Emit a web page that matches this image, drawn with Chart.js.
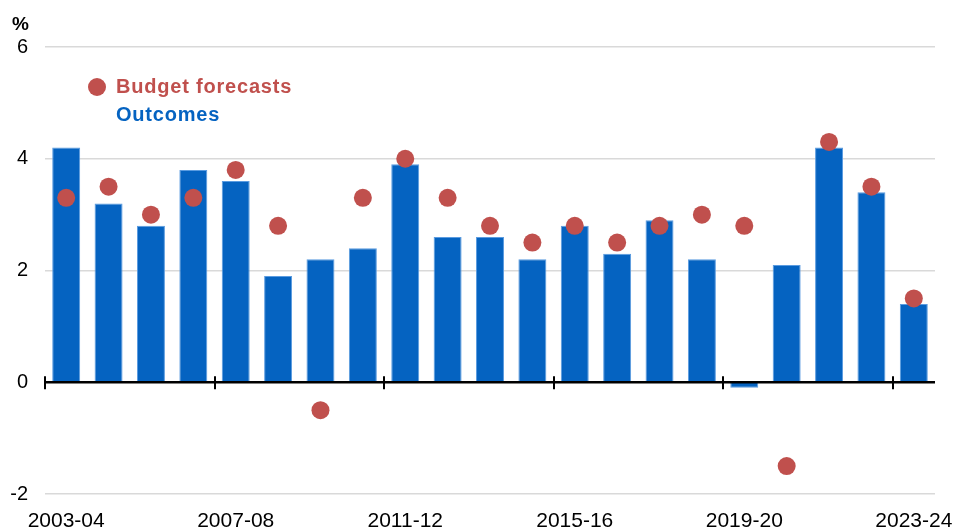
<!DOCTYPE html>
<html>
<head>
<meta charset="utf-8">
<script src="https://cdn.jsdelivr.net/npm/chart.js@4/dist/chart.umd.min.js"></script>
<style>
  html, body { margin: 0; padding: 0; background: #fff; }
  #wrap { width: 956px; height: 532px; }
</style>
</head>
<body>
<div id="wrap"><canvas id="growthChart" width="956" height="532"></canvas></div>
<script>
const years = ['2003-04', '2004-05', '2005-06', '2006-07', '2007-08', '2008-09', '2009-10',
    '2010-11', '2011-12', '2012-13', '2013-14', '2014-15', '2015-16', '2016-17', '2017-18',
    '2018-19', '2019-20', '2020-21', '2021-22', '2022-23', '2023-24'];
const outcomes = [4.2, 3.2, 2.8, 3.8, 3.6, 1.9, 2.2, 2.4, 3.9, 2.6, 2.6, 2.2, 2.8, 2.3, 2.9, 2.2, -0.1, 2.1, 4.2, 3.4, 1.4];
const forecasts = [3.3, 3.5, 3.0, 3.3, 3.8, 2.8, -0.5, 3.3, 4.0, 3.3, 2.8, 2.5, 2.8, 2.5, 2.8, 3.0, 2.8, -1.5, 4.3, 3.5, 1.5];
const yTicks = [-2, 0, 2, 4, 6];

const blue = '#0563C1';
const red = '#C0504D';
const font = "'Liberation Sans', Arial, sans-serif";

// zero line with tick marks every 4 years, plus legend and % label
const extras = {
    id: 'extras',
    afterDatasetsDraw(chart) {
        const c = chart.ctx;
        const x = chart.scales.x, y = chart.scales.y;
        const area = chart.chartArea;
        const y0 = y.getPixelForValue(0);
        const half = (x.getPixelForValue(1) - x.getPixelForValue(0)) / 2;
        c.save();
        c.strokeStyle = '#000';
        c.lineWidth = 2.5;
        c.beginPath();
        c.moveTo(area.left, y0);
        c.lineTo(area.right, y0);
        c.stroke();
        c.lineWidth = 2;
        for (let i = 0; i < years.length; i += 4) {
            const px = Math.round(x.getPixelForValue(i) - half);
            c.beginPath();
            c.moveTo(px, y0 - 6);
            c.lineTo(px, y0 + 7);
            c.stroke();
        }

        // legend
        c.fillStyle = red;
        c.beginPath();
        c.arc(97, 87, 9, 0, Math.PI * 2);
        c.fill();
        c.font = 'bold 20px ' + font;
        c.letterSpacing = '0.8px';
        c.textBaseline = 'middle';
        c.textAlign = 'left';
        c.fillText('Budget forecasts', 116, 87);
        c.fillStyle = blue;
        c.fillText('Outcomes', 116, 115);

        // unit label
        c.letterSpacing = '0px';
        c.fillStyle = '#000';
        c.font = 'bold 19px ' + font;
        c.textAlign = 'right';
        c.fillText('%', 29, 25);
        c.restore();
    }
};

new Chart(document.getElementById('growthChart').getContext('2d'), {
    type: 'bar',
    data: {
        labels: years,
        datasets: [{
            type: 'line',
            label: 'Budget forecasts',
            data: forecasts,
            showLine: false,
            pointRadius: 9,
            pointHoverRadius: 9,
            pointBackgroundColor: red,
            pointBorderColor: red,
            pointBorderWidth: 0,
            order: 1
        }, {
            label: 'Outcomes',
            data: outcomes,
            backgroundColor: blue,
            borderColor: '#5A9BE0',
            borderWidth: 1,
            barPercentage: 0.66,
            categoryPercentage: 1,
            order: 2
        }]
    },
    plugins: [extras],
    options: {
        responsive: false,
        animation: false,
        maintainAspectRatio: false,
        layout: { padding: { top: 47, right: 21, left: 0, bottom: 0 } },
        plugins: {
            legend: { display: false },
            tooltip: { enabled: false },
            title: { display: false }
        },
        scales: {
            x: {
                offset: true,
                grid: { display: false, drawTicks: false },
                border: { display: false },
                ticks: {
                    autoSkip: false,
                    maxRotation: 0,
                    padding: 15,
                    color: '#000',
                    font: { family: font, size: 21 },
                    callback: (v, i) => (i % 4 === 0 ? years[i] : '')
                },
                afterFit: s => {
                    s.height = 38;
                    s.paddingLeft = 0;
                    s.paddingRight = 0;
                }
            },
            y: {
                min: -2,
                max: 6,
                afterBuildTicks: s => { s.ticks = yTicks.map(v => ({ value: v })); },
                grid: {
                    drawTicks: false,
                    color: ctx => (ctx.tick && ctx.tick.value === 0 ? 'rgba(0,0,0,0)' : '#D9D9D9'),
                    lineWidth: 1.5
                },
                border: { display: false },
                ticks: {
                    padding: 17,
                    color: '#000',
                    font: { family: font, size: 20 }
                },
                afterFit: s => { s.width = 45; }
            }
        }
    }
});
</script>
</body>
</html>
